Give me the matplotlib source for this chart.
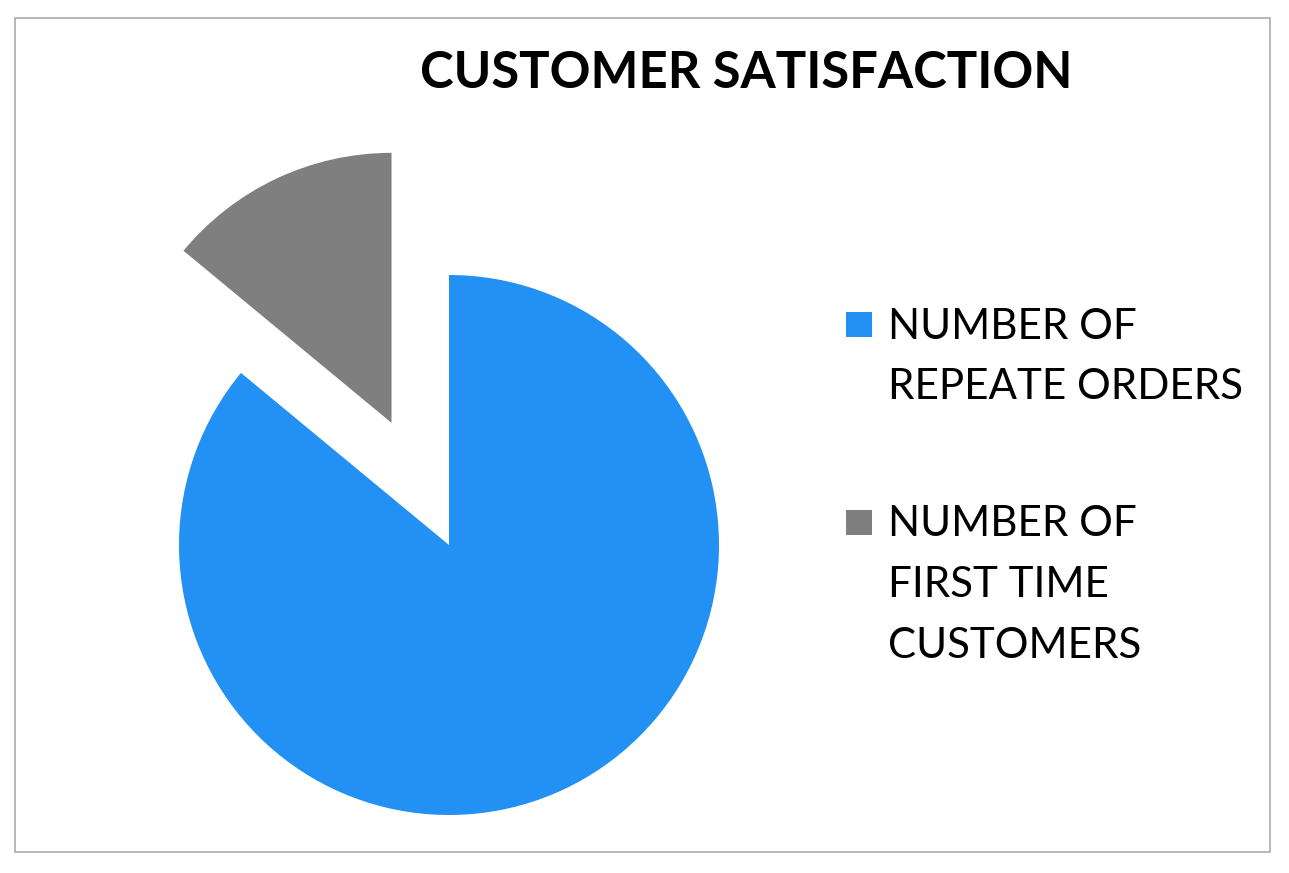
import matplotlib.pyplot as plt
from matplotlib.patches import Rectangle

plt.rcParams['font.family'] = ['Lato', 'DejaVu Sans']

# data
labels = ["NUMBER OF\nREPEATE ORDERS", "NUMBER OF\nFIRST TIME\nCUSTOMERS"]
values = [86, 14]
colors = ["#2391F3", "#7F7F7F"]
explode = [0, 0.50]
title = "CUSTOMER SATISFACTION"

W, H = 1289, 873
fig = plt.figure(figsize=(W/100., H/100.), dpi=100)

# pie centred at (449,545) px, radius 270 px
cx, cy, r = 449, 545, 270
ax = fig.add_axes([(cx-r)/W, (H-cy-r)/H, 2*r/W, 2*r/H])
wedges, _ = ax.pie(values, colors=colors, explode=explode, startangle=90,
                   counterclock=False, radius=1)
for w in wedges:
    w.set_clip_on(False)
ax.set_xlim(-1, 1)
ax.set_ylim(-1, 1)
ax.axis("off")

# outer border
fig.patches.append(Rectangle((15/W, (H-852)/H), 1255/W, 834/H, transform=fig.transFigure,
                             fill=False, edgecolor="#ABABAB", linewidth=1.2))

fig.text(746/W, 1-88/H, title, ha="center", va="baseline",
         fontsize=36.5, fontweight="bold", color="black")

# legend drawn by hand, marker next to the first line
y0 = 339
pitch = 60.5
for lab, col in zip(labels, colors):
    lines = lab.split("\n")
    fig.patches.append(Rectangle((846/W, 1-(y0-2)/H), 26/W, 25/H, transform=fig.transFigure,
                                 facecolor=col, edgecolor="none"))
    for i, ln in enumerate(lines):
        fig.text(888/W, 1-(y0+i*pitch)/H, ln, ha="left", va="baseline",
                 fontsize=30.3, color="black")
    y0 = y0 + (len(lines)-1)*pitch + 137

fig.savefig("out.png", dpi=100, facecolor="white")
